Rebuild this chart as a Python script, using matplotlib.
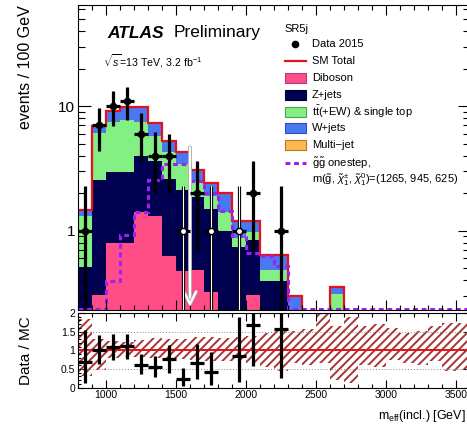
import numpy as np
import matplotlib
matplotlib.use('Agg')
import matplotlib.pyplot as plt
from matplotlib.patches import Rectangle
from matplotlib.lines import Line2D
from matplotlib.ticker import MultipleLocator, FixedLocator, LogLocator, NullFormatter, FuncFormatter
import matplotlib.patheffects as pe

plt.rcParams['font.family'] = ['Liberation Sans', 'DejaVu Sans']
plt.rcParams['mathtext.fontset'] = 'custom'
plt.rcParams['mathtext.rm'] = 'Liberation Sans'
plt.rcParams['mathtext.it'] = 'Liberation Sans:italic'
plt.rcParams['mathtext.bf'] = 'Liberation Sans:bold'
plt.rcParams['hatch.linewidth'] = 1.4

# m_eff binning, 100 GeV per bin
edges = np.arange(800, 3700, 100)
centers = 0.5 * (edges[:-1] + edges[1:])

# background expectations per bin (SR5j)
diboson = [0.12, 0.30, 0.79, 0.79, 1.42, 1.30, 0.62, 0.47, 0.48, 0.32, 0, 0, 0.30, 0,
           0, 0, 0, 0, 0, 0, 0, 0, 0, 0, 0, 0, 0, 0]
zjets = [0.39, 2.25, 2.19, 2.19, 2.56, 2.30, 1.98, 1.63, 1.37, 1.18, 1.00, 0.74, 0.54, 0.39,
         0.39, 0.20, 0, 0, 0, 0, 0, 0, 0, 0, 0, 0, 0, 0]
ttbar = [0.79, 3.51, 4.52, 4.77, 3.50, 2.20, 1.70, 1.30, 0.65, 0.40, 0.40, 0.13, 0.14, 0.09,
         0.09, 0, 0, 0, 0.31, 0, 0, 0, 0, 0, 0, 0, 0, 0]
wjets = [0.16, 0.79, 1.70, 2.15, 2.40, 1.50, 0.90, 0.90, 0.55, 0.50, 0.60, 0.33, 0.22, 0.16,
         0.16, 0.10, 0, 0, 0.04, 0, 0, 0, 0, 0, 0, 0, 0, 0]
multijet = [0.01, 0.02, 0.02, 0.02, 0.01, 0.01, 0, 0, 0, 0, 0, 0, 0, 0,
            0, 0, 0, 0, 0, 0, 0, 0, 0, 0, 0, 0, 0, 0]

# signal: gluino onestep (1265, 945, 625)
signal = [0.1, 0.1, 0.39, 0.93, 1.42, 2.55, 3.4, 3.45, 2.5, 2.0, 1.45, 0.9, 0.66, 0.62,
          0.52, 0.1, 0.05, 0.05, 0.05, 0.05, 0.05, 0.05, 0.05, 0.05, 0.05, 0.05, 0.05, 0.05]

# observed events and their errors
data = [1, 7, 10, 11, 6, 4, 4, 1, 2, 1, 0, 1, 2, 0, 1, 0, 0, 0, 0, 0, 0, 0, 0, 0, 0, 0, 0, 0]
data_err_lo = [0.83, 2.6, 3.1, 3.3, 2.4, 2.0, 2.0, 0.83, 1.3, 0.83, 0, 0.83, 1.3, 0, 0.83,
               0, 0, 0, 0, 0, 0, 0, 0, 0, 0, 0, 0, 0]
data_err_hi = [1.27, 2.6, 3.3, 3.3, 2.8, 2.2, 2.0, 1.27, 1.6, 1.27, 0, 1.27, 1.6, 0, 1.27,
               0, 0, 0, 0, 0, 0, 0, 0, 0, 0, 0, 0, 0]
hollow_bins = [7, 9, 11]

# relative MC uncertainty band (ratio panel)
band_lo = [0.32, 0.48, 0.78, 0.82, 0.82, 0.80, 0.78, 0.76, 0.75, 0.72, 0.70, 0.70, 0.65, 0.56,
           0.45, 0.65, 0.61, 0.65, 0.20, 0.11, 0.61, 0.56, 0.74, 0.65, 0.61, 0.70, 0.43, 0.47]
band_hi = [1.85, 1.30, 1.25, 1.22, 1.28, 1.32, 1.30, 1.30, 1.35, 1.35, 1.32, 1.35, 1.38, 1.47,
           1.56, 1.52, 1.56, 2.05, 1.65, 1.88, 1.65, 1.70, 1.61, 1.47, 1.52, 1.65, 1.74, 1.74]

cut_value = 1600

colors = {
    'Diboson': '#FF4D88',
    'Z+jets': '#000050',
    'ttbar': '#84F084',
    'W+jets': '#4A78F0',
    'Multi-jet': '#FFB84D',
}
edge_colors = ['#B03A8A', '#000030', '#4FA04F', '#2F50B0', '#B07A30']

y_lo, y_hi = 0.23, 65

W, H = 467, 428
fig = plt.figure(figsize=(W / 100, H / 100), dpi=100)


def px(x, y):
    return x / W, 1 - y / H


ax = fig.add_axes([78 / W, 1 - 310 / H, 392 / W, 305 / H])
rax = fig.add_axes([78 / W, 1 - 387.5 / H, 392 / W, 74.5 / H])

# stacked backgrounds
stack = [np.array(diboson), np.array(zjets), np.array(ttbar), np.array(wjets), np.array(multijet)]
stack_cols = [colors['Diboson'], colors['Z+jets'], colors['ttbar'], colors['W+jets'], colors['Multi-jet']]
base = np.full(len(centers), 1e-3)
for vals, col in zip(stack, stack_cols):
    top = base + vals
    ax.stairs(top, edges, baseline=base, fill=True, color=col, lw=0)
    base = top
total = sum(stack)
ax.stairs(np.where(total > 0, total, 1e-3), edges, color='#E8101A', lw=1.6, baseline=None)

# signal
ax.stairs(np.maximum(signal, y_lo * 1.01), edges, color='#A020F0', lw=2.2,
          linestyle=(0, (1.6, 1.2)), baseline=None)

# cut arrow
ax.annotate('', xy=(cut_value, y_lo * 1.01), xytext=(cut_value, 4.9),
            arrowprops=dict(arrowstyle='->', color='white', lw=1.8, mutation_scale=22,
                            path_effects=[pe.Stroke(linewidth=2.8, foreground='#9a9a9a'), pe.Normal()]))

# data
data = np.array(data, dtype=float)
lo = np.array(data_err_lo)
hi = np.array(data_err_hi)
mask = data > 0
ax.errorbar(centers[mask], data[mask], yerr=[lo[mask], hi[mask]], xerr=50, fmt='o',
            color='black', ms=4.5, elinewidth=2.3, capsize=0, zorder=5)
for k in hollow_bins:
    ax.plot([centers[k], centers[k]], [data[k] - lo[k], data[k] + hi[k]], color='white', lw=0.8, zorder=6)
    ax.plot(centers[k], data[k], 'o', ms=4.5, mfc='white', mec='black', mew=1.0, zorder=7)

ax.set_yscale('log')
ax.set_xlim(800, 3600)
ax.set_ylim(y_lo, y_hi)
ax.xaxis.set_major_locator(MultipleLocator(500))
ax.xaxis.set_minor_locator(MultipleLocator(100))
ax.xaxis.set_major_formatter(NullFormatter())
ax.yaxis.set_major_locator(FixedLocator([1, 10]))
ax.yaxis.set_major_formatter(FuncFormatter(lambda v, p: '%d' % v))
ax.yaxis.set_minor_locator(LogLocator(base=10, subs=np.arange(2, 10)))
ax.yaxis.set_minor_formatter(NullFormatter())
ax.tick_params(which='both', direction='in', top=True, right=True, width=0.8)
ax.tick_params(axis='y', which='major', length=9, labelsize=11, pad=2)
ax.tick_params(axis='y', which='minor', length=5)
ax.tick_params(axis='x', which='major', length=7)
ax.tick_params(axis='x', which='minor', length=3.5)
ax.set_ylabel('events / 100 GeV', fontsize=11.5, loc='top')
ax.yaxis.set_label_coords(-0.115, 1.0)

# ratio panel
rax.stairs(band_hi, edges, baseline=band_lo, fill=True, facecolor='none', edgecolor='#A83535',
           hatch='////', lw=0)
rax.axhline(1, color='#E8101A', lw=1.4)
for g in [0.5, 1.5]:
    rax.axhline(g, color='#888888', lw=0.7, ls=(0, (1, 2)))
rmask = mask & (total > 0)
ratio = data[rmask] / total[rmask]
rax.errorbar(centers[rmask], ratio, yerr=[lo[rmask] / total[rmask], hi[rmask] / total[rmask]],
             xerr=50, fmt='none', ecolor='black', elinewidth=2.3, capsize=0, zorder=5)
rax.set_xlim(800, 3600)
rax.set_ylim(0, 2)
rax.xaxis.set_major_locator(MultipleLocator(500))
rax.xaxis.set_minor_locator(MultipleLocator(100))
rax.yaxis.set_major_locator(MultipleLocator(0.5))
rax.yaxis.set_minor_locator(MultipleLocator(0.1))
rax.yaxis.set_major_formatter(FuncFormatter(lambda v, p: '%g' % v))
rax.tick_params(which='both', direction='in', top=True, right=True, width=0.8, labelsize=7.5)
rax.tick_params(axis='y', which='major', length=5, pad=2)
rax.tick_params(axis='y', which='minor', length=2.5)
rax.tick_params(axis='x', which='major', length=6, pad=2)
rax.tick_params(axis='x', which='minor', length=3)
rax.set_ylabel('Data / MC', fontsize=11)
rax.yaxis.set_label_coords(-0.115, 0.5)
rax.set_xlabel(r'm$_{\rm eff}$(incl.) [GeV]', fontsize=9, loc='right')
rax.xaxis.set_label_coords(0.99, -0.27)

# labels
fig.text(*px(107, 33), 'ATLAS', fontsize=12.5, fontweight='bold', fontstyle='italic', va='center')
fig.text(*px(174, 33), 'Preliminary', fontsize=12.5, va='center')
fig.text(*px(103, 61), r'$\sqrt{s}$=13 TeV, 3.2 fb$^{-1}$', fontsize=7.7, va='center')

# legend
leg_x, txt_x, fs = 285, 312, 8
fig.text(*px(leg_x - 1, 29), 'SR5j', fontsize=fs, va='center')
fig.add_artist(Line2D([px(295, 0)[0]], [px(0, 44)[1]], marker='o', color='black', ms=4.5,
                      transform=fig.transFigure))
fig.text(*px(txt_x, 44), 'Data 2015', fontsize=fs, va='center')
fig.add_artist(Line2D([px(leg_x, 0)[0], px(leg_x + 21, 0)[0]], [px(0, 61)[1]] * 2,
                      color='#E8101A', lw=1.6, transform=fig.transFigure))
fig.text(*px(txt_x, 61), 'SM Total', fontsize=fs, va='center')
labels = ['Diboson', 'Z+jets', r'$\mathrm{t\bar{t}}$(+EW) & single top', 'W+jets', 'Multi\u2212jet']
rows = [78, 95, 112, 128, 145]
for lab, yy, col, ec in zip(labels, rows, stack_cols, edge_colors):
    x0, y0 = px(leg_x, yy + 5)
    fig.add_artist(Rectangle((x0, y0), 21 / W, 10 / H, facecolor=col, edgecolor=ec, lw=0.8,
                             transform=fig.transFigure))
    fig.text(*px(txt_x, yy), lab, fontsize=fs, va='center')
fig.add_artist(Line2D([px(leg_x, 0)[0], px(leg_x + 21, 0)[0]], [px(0, 163)[1]] * 2,
                      color='#A020F0', lw=2.2, ls=(0, (1.6, 1.2)), transform=fig.transFigure))
fig.text(*px(txt_x, 163), r'$\tilde{\mathrm{g}}\tilde{\mathrm{g}}$ onestep,', fontsize=fs, va='center')
fig.text(*px(txt_x, 180),
         r'm($\tilde{\mathrm{g}}$, $\tilde{\chi}_1^{\pm}$, $\tilde{\chi}_1^{0}$)=(1265, 945, 625)',
         fontsize=fs, va='center')

fig.savefig('out.png', dpi=100)
